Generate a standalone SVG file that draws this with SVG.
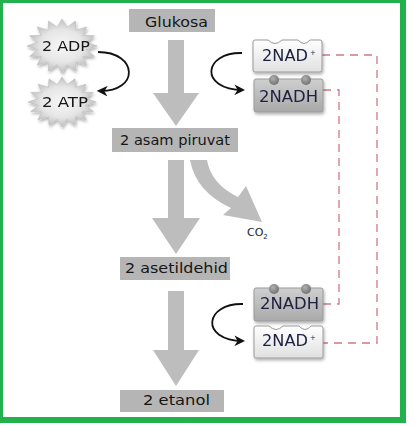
<svg xmlns="http://www.w3.org/2000/svg" width="417" height="426" viewBox="0 0 417 426">
<defs>
<style>
.box{fill:#b5b5b5}
.lbl{font-family:"DejaVu Sans",Verdana,sans-serif;font-size:14px;fill:#161616}
.nad{font-family:"DejaVu Sans",Verdana,sans-serif;font-size:15px;fill:#1b2040}
.sup{font-family:"DejaVu Sans",Verdana,sans-serif;font-size:7px;fill:#1b2040}
.big{fill:#bdbdbd}
.curve{fill:none;stroke:#111;stroke-width:1.8;marker-end:url(#ah)}
.dash{fill:none;stroke:#d07886;stroke-width:1.3;stroke-dasharray:8 6}
</style>
<marker id="ah" viewBox="0 0 10 10" refX="8" refY="5" markerWidth="6" markerHeight="6" orient="auto" markerUnits="strokeWidth">
<path d="M0,0 L10,5 L0,10 L3,5 Z" fill="#111"/>
</marker>
<radialGradient id="starg" cx="0.5" cy="0.5" r="0.55">
<stop offset="0" stop-color="#f7f7f7"/>
<stop offset="0.55" stop-color="#e6e6e6"/>
<stop offset="1" stop-color="#b4b4b4"/>
</radialGradient>
<linearGradient id="nadg" x1="0" y1="0" x2="0" y2="1">
<stop offset="0" stop-color="#ffffff"/>
<stop offset="1" stop-color="#e0e0e0"/>
</linearGradient>
<linearGradient id="nadhg" x1="0" y1="0" x2="0" y2="1">
<stop offset="0" stop-color="#cfcfcf"/>
<stop offset="1" stop-color="#a9a9a9"/>
</linearGradient>
<radialGradient id="knobg" cx="0.4" cy="0.35" r="0.7">
<stop offset="0" stop-color="#b0b0b0"/>
<stop offset="1" stop-color="#6e6e6e"/>
</radialGradient>
<filter id="sh" x="-20%" y="-20%" width="140%" height="150%">
<feDropShadow dx="1" dy="2" stdDeviation="1.5" flood-color="#000" flood-opacity="0.3"/>
</filter>
<polygon id="star" points="35,0 24.5,3.7 32.3,10.3 20.8,10.6 24.7,19.1 13.9,15.8 13.4,24.9 4.9,18.6 0,27 -4.9,18.6 -13.4,24.9 -13.9,15.8 -24.7,19.1 -20.8,10.6 -32.3,10.3 -24.5,3.7 -35,0 -24.5,-3.7 -32.3,-10.3 -20.8,-10.6 -24.7,-19.1 -13.9,-15.8 -13.4,-24.9 -4.9,-18.6 0,-27 4.9,-18.6 13.4,-24.9 13.9,-15.8 24.7,-19.1 20.8,-10.6 32.3,-10.3 24.5,-3.7" fill="url(#starg)" stroke="#c4c4c4" stroke-width="0.8"/>
<path id="nadshape" d="M2,0 H15 Q22,7 29,0 H45 Q51,7 57,0 H67 Q69,0 69,2 V30 Q69,32 67,32 H2 Q0,32 0,30 V2 Q0,0 2,0 Z" fill="url(#nadg)" stroke="#9a9a9a" stroke-width="1"/>
<g id="nadhshape">
<rect x="0" y="0" width="69" height="33" rx="2" fill="url(#nadhg)" stroke="#9a9a9a" stroke-width="1"/>
<circle cx="20" cy="1" r="5" fill="url(#knobg)"/>
<circle cx="52" cy="1" r="5" fill="url(#knobg)"/>
</g>
</defs>

<rect x="0" y="0" width="417" height="426" fill="#fff"/>
<rect x="0" y="0" width="403" height="420" fill="none" stroke="#22b14c" stroke-width="6"/>

<g id="connectors">
<path class="big" d="M168,40 H184 V93 H199 L176,126 L153,93 H168 Z"/>
<path class="big" d="M168,160 H184 V218 H200 L176,254 L152,218 H168 Z"/>
<path class="big" d="M168,291 H184 V350 H199 L176,386 L153,350 H168 Z"/>
<path class="big" d="M190,160 L207,160 Q211,184 238,197 L246,186 L262,222 L223,215 L231,208 Q196,192 190,160 Z"/>
<path class="curve" d="M98,52 C138,52 140,92 99,91"/>
<path class="curve" d="M242,53 C204,52 198,89 243,90"/>
<path class="curve" d="M243,304 C205,303 199,340 243,341"/>
<polyline class="dash" points="322,55 377,55 377,343 322,343"/>
<polyline class="dash" points="323,90 339,90 339,304 323,304"/>
</g>

<g id="glukosa">
<rect class="box" x="129" y="9" width="86" height="23"/>
<text class="lbl" x="145" y="27" textLength="63" lengthAdjust="spacingAndGlyphs">Glukosa</text>
</g>
<g id="piruvat">
<rect class="box" x="112" y="128" width="126" height="24"/>
<text class="lbl" x="120" y="145" textLength="110" lengthAdjust="spacingAndGlyphs">2 asam piruvat</text>
</g>
<g id="asetildehid">
<rect class="box" x="120" y="257" width="110" height="23"/>
<text class="lbl" x="125" y="273" textLength="103" lengthAdjust="spacingAndGlyphs">2 asetildehid</text>
</g>
<g id="etanol">
<rect class="box" x="120" y="390" width="104" height="22"/>
<text class="lbl" x="143" y="405" textLength="67" lengthAdjust="spacingAndGlyphs">2 etanol</text>
</g>
<g id="co2">
<text font-family="DejaVu Sans,Verdana,sans-serif" font-size="11" fill="#1e1e1e" x="247" y="236">CO<tspan font-size="7" dy="3">2</tspan></text>
</g>

<g id="adp" filter="url(#sh)">
<use href="#star" transform="translate(62,46)"/>
<text class="lbl" x="42" y="51" textLength="48" lengthAdjust="spacingAndGlyphs">2 ADP</text>
</g>
<g id="atp" filter="url(#sh)">
<use href="#star" transform="translate(62,102) scale(0.97,0.93)"/>
<text class="lbl" x="42" y="107" textLength="46" lengthAdjust="spacingAndGlyphs">2 ATP</text>
</g>

<g id="nad-top" filter="url(#sh)">
<use href="#nadshape" transform="translate(253,40)"/>
<text class="nad" x="262" y="61" textLength="46" lengthAdjust="spacingAndGlyphs">2NAD</text>
<text class="sup" x="310" y="55">+</text>
</g>
<g id="nadh-top" filter="url(#sh)">
<use href="#nadhshape" transform="translate(254,79)"/>
<text class="nad" x="259" y="102" textLength="59" lengthAdjust="spacingAndGlyphs">2NADH</text>
</g>
<g id="nadh-bottom" filter="url(#sh)">
<use href="#nadhshape" transform="translate(254,288)"/>
<text class="nad" x="260" y="309" textLength="59" lengthAdjust="spacingAndGlyphs">2NADH</text>
</g>
<g id="nad-bottom" filter="url(#sh)">
<use href="#nadshape" transform="translate(254,326)"/>
<text class="nad" x="262" y="346" textLength="46" lengthAdjust="spacingAndGlyphs">2NAD</text>
<text class="sup" x="310" y="340">+</text>
</g>
</svg>
